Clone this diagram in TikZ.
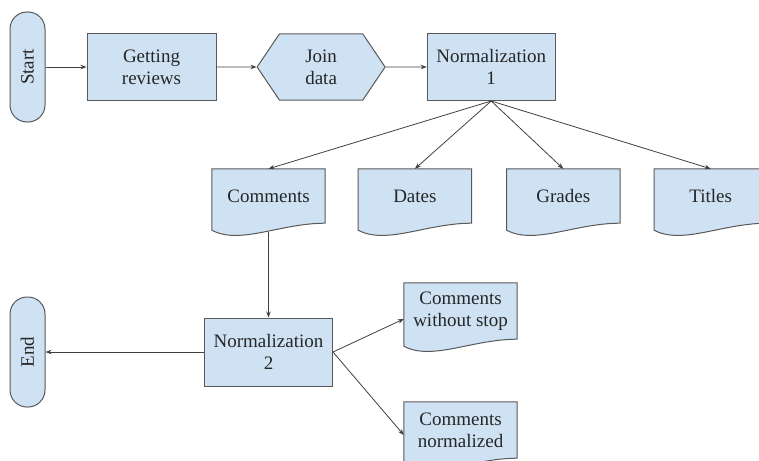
\documentclass[tikz,border=0pt]{standalone}
\usepackage{fontspec}
\setmainfont{Liberation Serif}
\usepackage{tikz}
\usetikzlibrary{positioning,arrows.meta,calc,shapes.symbols,backgrounds}

\definecolor{boxblue}{HTML}{CFE2F3}
\definecolor{linegray}{HTML}{595959}
\definecolor{flowgray}{HTML}{404040}

\tikzset{
  >={Stealth[length=6pt,width=4.5pt]},
  node distance=41pt,
  boxtext/.style={font=\fontsize{19}{22}\selectfont,text=black!85,align=center},
  procbox/.style={boxtext,draw=linegray,fill=boxblue,line width=1pt,
    minimum width=129pt,minimum height=67pt,inner sep=2pt},
  termbox/.style={boxtext,draw=linegray,fill=boxblue,line width=1pt,
    rounded corners=17pt,minimum width=35pt,minimum height=110pt,inner sep=0pt},
  joinbox/.style={boxtext,draw=linegray,fill=boxblue,line width=1pt,
    signal,signal to=west and east,signal pointer angle=112,
    minimum width=128pt,minimum height=66pt,inner sep=2pt},
  docbox/.style={boxtext,minimum width=113pt,minimum height=54pt,inner sep=2pt},
  docshape/.style={draw=linegray,fill=boxblue,line width=1pt},
  flow/.style={->,line width=0.8pt,draw=flowgray},
}

\begin{document}
\begin{tikzpicture}[x=1pt,y=-1pt]
  \useasboundingbox (0,0) rectangle (759,460);

  % first row
  \node[termbox] (start) at (27.5,67) {\rotatebox{90}{Start}};
  \node[procbox,right=of start] (get) {Getting\\reviews};
  \node[joinbox,right=40pt of get] (join) {Join\\data};
  \node[procbox,right=of join,minimum width=128pt] (norm1) {Normalization\\1};

  % split of the data
  \node[docbox] (com) at (268.5,196) {Comments};
  \node[docbox,right=33pt of com] (dat) {Dates};
  \node[docbox,right=35pt of dat] (gra) {Grades};
  \node[docbox,right=34pt of gra] (tit) {Titles};

  % second pass on the comments
  \node[procbox,minimum width=128pt,minimum height=68pt] (norm2) at (268.5,352) {Normalization\\2};
  \node[termbox] (end) at (27.5,352) {\rotatebox{90}{End}};
  \node[docbox,minimum height=56pt] (cws) at (460.5,311) {Comments\\without stop};
  \node[docbox,minimum height=56pt] (cnm) at (460.5,430) {Comments\\normalized};

  % document outlines with the wavy bottom
  \begin{scope}[on background layer]
    \foreach \d in {com,dat,gra,tit,cws,cnm}
      \draw[docshape] (\d.north west) -- (\d.north east) -- (\d.south east)
        .. controls ($(\d.south east)!0.4!(\d.south west)$)
        and ($(\d.south east)!0.75!(\d.south west)+(0,22)$)
        .. ($(\d.south west)+(0,7)$) -- cycle;
  \end{scope}

  \draw[flow] (start) -- (get);
  \draw[flow] (get) -- (join);
  \draw[flow] (join) -- (norm1);
  \foreach \d in {com,dat,gra,tit}
    \draw[flow] (norm1.south) -- (\d.north);
  \draw[flow] ([yshift=-9pt]com.south) -- (norm2.north);
  \draw[flow] (norm2) -- (end);
  \draw[flow] (norm2.east) -- ([yshift=-8pt]cws.west);
  \draw[flow] (norm2.east) -- ([yshift=-5pt]cnm.west);
\end{tikzpicture}
\end{document}
